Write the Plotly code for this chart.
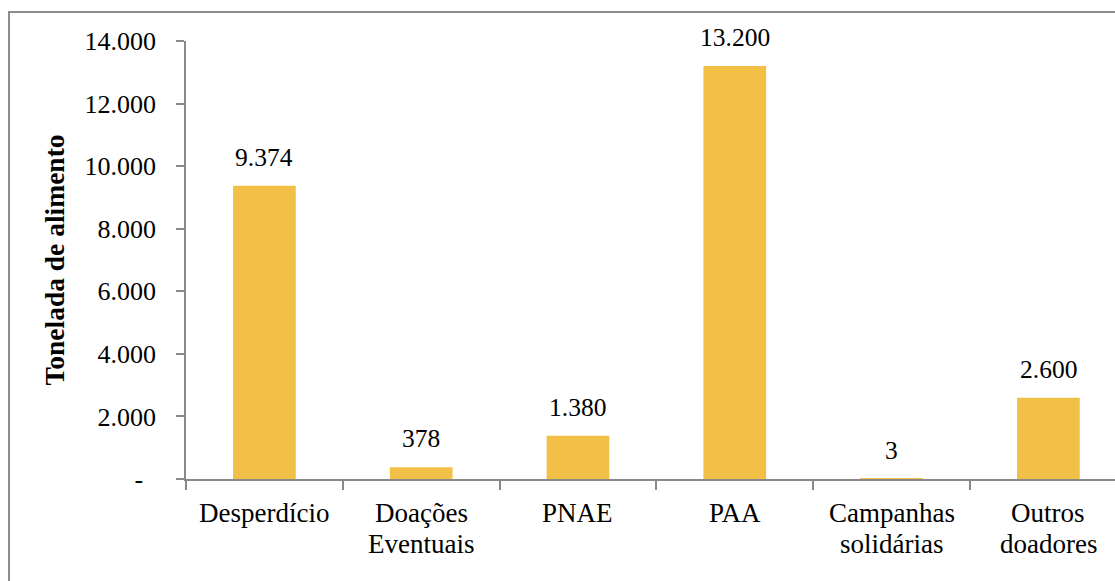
import plotly.graph_objects as go

categories = ["Desperdício", "Doações\nEventuais", "PNAE", "PAA", "Campanhas\nsolidárias", "Outros\ndoadores"]
values = [9374, 378, 1380, 13200, 3, 2600]
tick_vals = [0, 2000, 4000, 6000, 8000, 10000, 12000, 14000]
tick_text = ["-\u00a0\u00a0", "2.000", "4.000", "6.000", "8.000", "10.000", "12.000", "14.000"]

FONT = "Liberation Serif, Times New Roman, serif"
AXIS = "#898989"

fig = go.Figure(go.Bar(
    x=categories, y=values, width=0.4,
    marker=dict(color="#F2BF47", line=dict(width=0)),
))

# data labels
for c, v in zip(categories, values):
    fig.add_annotation(x=c, y=v, text=f"{v:,}".replace(",", "."), showarrow=False,
                       yanchor="bottom", yshift=12,
                       font=dict(family=FONT, size=25.5, color="black"))

# category labels (line spacing as in the reference)
for c in categories:
    for i, line in enumerate(c.split("\n")):
        fig.add_annotation(x=c, xref="x", y=0, yref="paper", text=line, showarrow=False,
                           yanchor="middle", yshift=-34 - 31 * i,
                           font=dict(family=FONT, size=27, color="black"))

fig.update_layout(
    width=1115, height=581,
    margin=dict(l=186, r=0, t=41, b=102),
    paper_bgcolor="white", plot_bgcolor="white",
    showlegend=False,
    font=dict(family=FONT, size=26, color="black"),
    xaxis=dict(
        range=[-0.5, 5.425], showline=True, linecolor=AXIS, linewidth=1.5,
        ticks="outside", tickson="boundaries", ticklen=9, tickcolor=AXIS, tickwidth=1.5,
        showticklabels=False, showgrid=False,
    ),
    yaxis=dict(
        range=[0, 14000], tickvals=tick_vals, ticktext=tick_text,
        showline=True, linecolor=AXIS, linewidth=1.5,
        ticks="outside", ticklen=8, tickcolor=AXIS, tickwidth=1.5,
        ticklabelstandoff=15,
        tickfont=dict(family=FONT, size=26, color="black"), showgrid=False, zeroline=False,
        title=dict(text="<b>Tonelada de alimento</b>", font=dict(family=FONT, size=27.5, color="black"), standoff=12),
    ),
    shapes=[dict(type="rect", xref="paper", yref="paper",
                 x0=-0.1905, x1=1.02, y0=-0.35, y1=1.0662,
                 line=dict(color="#8c8c8c", width=2), fillcolor="rgba(0,0,0,0)", layer="below")],
)

fig.write_html("out.html")
